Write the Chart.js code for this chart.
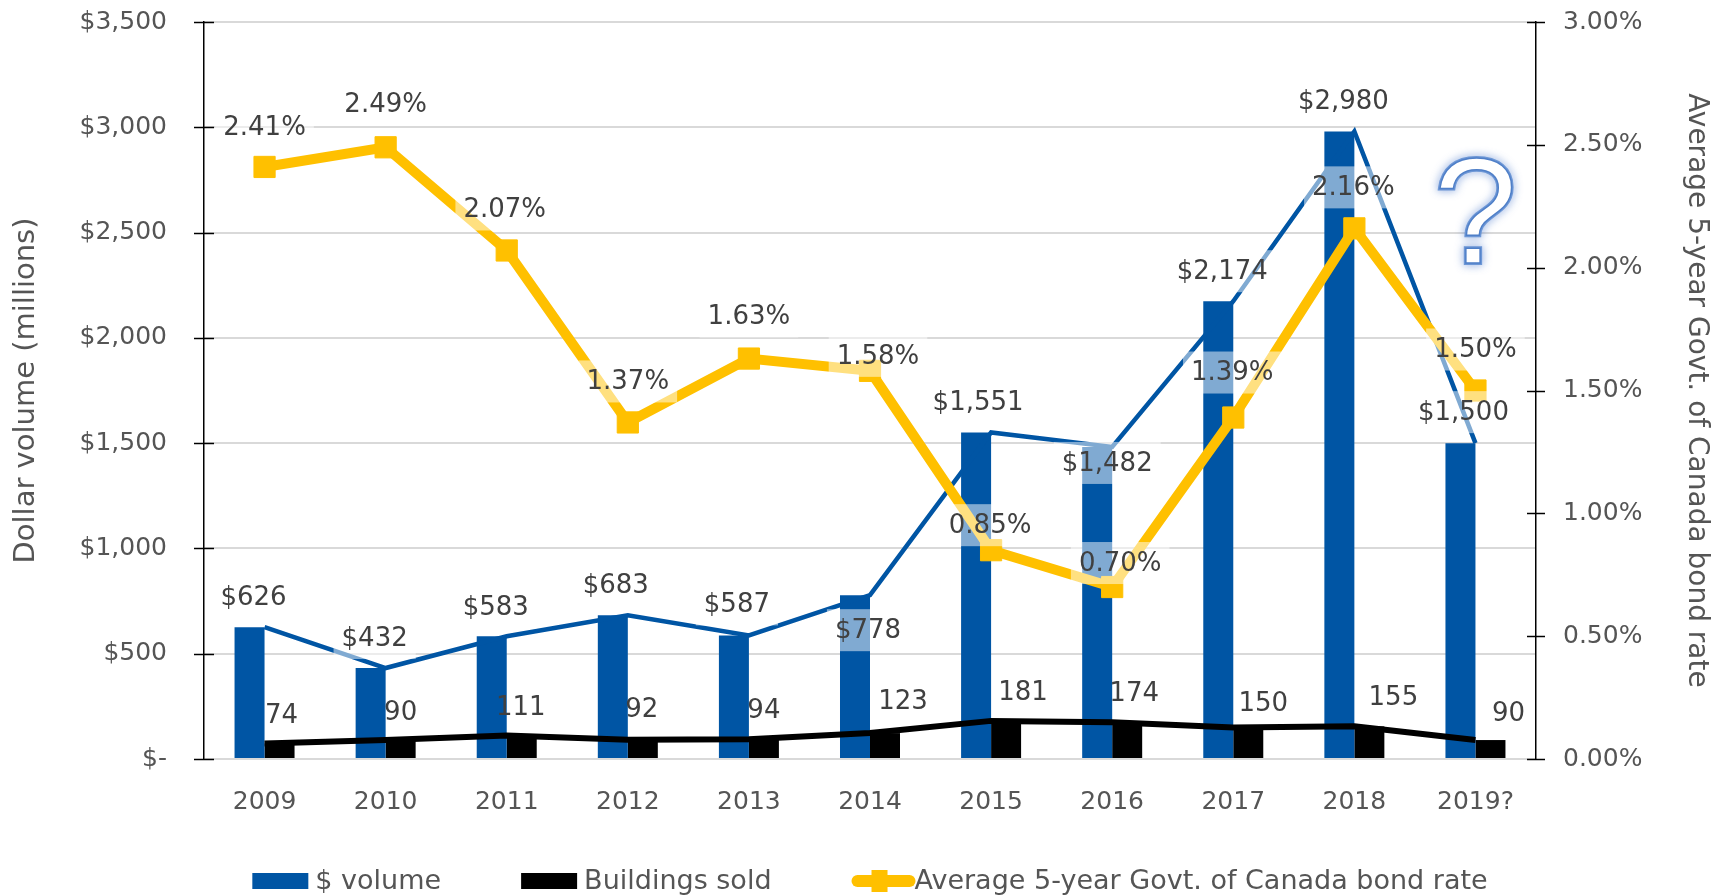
<!DOCTYPE html>
<html><head><meta charset="utf-8">
<script src="https://cdn.jsdelivr.net/npm/chart.js@4.4.1/dist/chart.umd.min.js"></script>
<style>html,body{margin:0;padding:0;background:#fff;overflow:hidden}#wrap{width:1731px;height:896px;position:relative}</style>
</head><body><div id="wrap"><canvas id="c" width="1731" height="896"></canvas></div>
<script>
// ---- data ----
const categories = ['2009','2010','2011','2012','2013','2014','2015','2016','2017','2018','2019?'];
const dollarVolume = [626,432,583,683,587,778,1551,1482,2174,2980,1500];
const buildingsSold = [74,90,111,92,94,123,181,174,150,155,90];
const bondRate = [2.41,2.49,2.07,1.37,1.63,1.58,0.85,0.70,1.39,2.16,1.50];
const seriesNames = ['$ volume','Buildings sold','Average 5-year Govt. of Canada bond rate'];
const leftAxisTitle = 'Dollar volume (millions)';
const rightAxisTitle = 'Average 5-year Govt. of Canada bond rate';

// ---- label placement (style, px offsets from the point) ----
const volumeLabelOffsets = [[-11,-30],[-11,-30],[-11,-29],[-12,-30],[-12,-31],[-2,35],[-13,-30],[-5,16],[-11,-30],[-11,-30],[-12,-31]];
const buildingLabelOffsets = [[17,-28],[15,-28],[14,-28],[14,-30],[15,-29],[33,-32],[32,-29],[22,-29],[30,-24],[39,-29],[33,-27]];
const rateLabelOffsets = [[0,-40],[0,-43],[-2,-41],[0,-41],[0,-42],[8,-15],[-1,-25],[8,-24],[-1,-45],[-1,-41],[0,-41]];

const BLUE = '#0055A4', BLACK = '#000000', YELLOW = '#FFC000';
const FONT = 'DejaVu Sans';
const TICK_COLOR = '#555555', LABEL_COLOR = '#404040';

const fmtDollar = v => v === 0 ? '$-' : '$' + Number(v).toLocaleString('en-US');
const fmtPct = v => Number(v).toFixed(2) + '%';

const crossTicks = {
  id: 'crossTicks',
  afterDraw(chart) {
    const ctx = chart.ctx;
    ctx.save();
    ctx.strokeStyle = '#000'; ctx.lineWidth = 1.5;
    [['yL', chart.chartArea.left, 10], ['yR', chart.chartArea.right, 9]].forEach(([id, ax, len]) => {
      const s = chart.scales[id];
      s.ticks.forEach(t => {
        const y = Math.round(s.getPixelForValue(t.value)) + 0.5;
        ctx.beginPath(); ctx.moveTo(ax - len, y); ctx.lineTo(ax + len, y); ctx.stroke();
      });
    });
    ctx.restore();
  }
};

const dataLabels = {
  id: 'dataLabels',
  afterDatasetsDraw(chart) {
    const ctx = chart.ctx;
    const specs = [
      {ds: 3, texts: buildingsSold.map(String), offs: buildingLabelOffsets, bg: false},
      {ds: 2, texts: dollarVolume.map(fmtDollar), offs: volumeLabelOffsets, bg: true},
      {ds: 4, texts: bondRate.map(fmtPct), offs: rateLabelOffsets, bg: true}
    ];
    ctx.save();
    ctx.font = '26px "' + FONT + '"';
    ctx.textAlign = 'center'; ctx.textBaseline = 'middle';
    specs.forEach(sp => {
      const meta = chart.getDatasetMeta(sp.ds);
      meta.data.forEach((pt, i) => {
        const x = pt.x + sp.offs[i][0], y = pt.y + sp.offs[i][1];
        if (sp.bg) {
          const w = ctx.measureText(sp.texts[i]).width + 16, h = 42;
          ctx.fillStyle = 'rgba(255,255,255,0.5)';
          ctx.fillRect(x - w / 2, y - h / 2, w, h);
        }
        ctx.fillStyle = LABEL_COLOR;
        ctx.fillText(sp.texts[i], x, y + 1);
      });
    });
    ctx.restore();
  }
};

const customLegend = {
  id: 'customLegend',
  afterDraw(chart) {
    const ctx = chart.ctx;
    ctx.save();
    ctx.font = '27px "' + FONT + '"';
    ctx.textBaseline = 'middle'; ctx.textAlign = 'left';
    const boxW = 56, gap = 7, spacing = 80, y = 881;
    const widths = seriesNames.map(n => ctx.measureText(n).width);
    const total = widths.reduce((a, b) => a + b, 0) + 3 * (boxW + gap) + 2 * spacing;
    let x = (chart.chartArea.left + chart.chartArea.right) / 2 - total / 2;
    const colors = [BLUE, BLACK, YELLOW];
    seriesNames.forEach((n, i) => {
      if (i < 2) {
        ctx.fillStyle = colors[i];
        ctx.fillRect(x, y - 8, boxW, 16);
      } else {
        ctx.strokeStyle = YELLOW; ctx.lineWidth = 12; ctx.lineCap = 'round';
        ctx.beginPath(); ctx.moveTo(x + 6, y); ctx.lineTo(x + boxW + 2, y); ctx.stroke();
        ctx.fillStyle = YELLOW;
        ctx.fillRect(x + boxW / 2 - 8, y - 11, 16, 22);
      }
      ctx.fillStyle = TICK_COLOR;
      ctx.fillText(n, x + boxW + gap, y + 1);
      x += boxW + gap + widths[i] + spacing;
    });
    ctx.restore();
  }
};

const questionMark = {
  id: 'questionMark',
  afterDraw(chart) {
    const ctx = chart.ctx;
    const x = chart.scales.x.getPixelForValue(categories.length - 1);
    const y = chart.chartArea.top + 200;
    ctx.save();
    ctx.font = '150px "Liberation Sans"';
    ctx.textAlign = 'center'; ctx.textBaseline = 'middle';
    ctx.shadowColor = 'rgba(60,110,200,0.75)'; ctx.shadowBlur = 9;
    ctx.lineWidth = 4; ctx.strokeStyle = '#6d97d6';
    ctx.strokeText('?', x, y);
    ctx.shadowBlur = 0;
    ctx.fillStyle = '#ffffff';
    ctx.fillText('?', x, y);
    ctx.lineWidth = 1.5; ctx.strokeStyle = '#4f7fc8';
    ctx.strokeText('?', x, y);
    ctx.restore();
  }
};

const hiddenTick = 'rgba(0,0,0,0)';

new Chart(document.getElementById('c'), {
  type: 'bar',
  data: {
    labels: categories,
    datasets: [
      {type: 'bar', label: seriesNames[0], data: dollarVolume, backgroundColor: BLUE, yAxisID: 'yL', order: 5,
       categoryPercentage: 0.4955, barPercentage: 1.0},
      {type: 'bar', label: seriesNames[1], data: buildingsSold, backgroundColor: BLACK, yAxisID: 'yL', order: 6,
       categoryPercentage: 0.4955, barPercentage: 1.0},
      {type: 'line', label: seriesNames[0] + ' line', data: dollarVolume, borderColor: BLUE, borderWidth: 4.5,
       pointRadius: 0, yAxisID: 'yL', order: 4, tension: 0},
      {type: 'line', label: seriesNames[1] + ' line', data: buildingsSold, borderColor: BLACK, borderWidth: 6,
       pointRadius: 0, yAxisID: 'yL', order: 3, tension: 0},
      {type: 'line', label: seriesNames[2], data: bondRate, borderColor: YELLOW, borderWidth: 10,
       pointStyle: 'rect', pointRadius: 15, pointBackgroundColor: YELLOW, pointBorderColor: YELLOW, pointBorderWidth: 1,
       yAxisID: 'yR', order: 1, tension: 0}
    ]
  },
  options: {
    responsive: false, animation: false, devicePixelRatio: 1,
    layout: {padding: {top: 22, left: 0, right: 0, bottom: 0}},
    plugins: {legend: {display: false}, tooltip: {enabled: false}},
    scales: {
      x: {
        grid: {display: false}, border: {display: false},
        ticks: {font: {family: FONT, size: 25}, color: TICK_COLOR, padding: 20, maxRotation: 0, autoSkip: false},
        afterFit(s) { s.height = 137; }
      },
      yL: {
        position: 'left', min: 0, max: 3500,
        ticks: {stepSize: 500, padding: 4, font: {family: FONT, size: 25}, color: TICK_COLOR, callback: v => fmtDollar(v)},
        grid: {color: '#d9d9d9', lineWidth: 2, drawTicks: true, tickLength: 33, tickColor: hiddenTick},
        border: {color: '#000', width: 1.5},
        title: {display: true, text: leftAxisTitle, font: {family: FONT, size: 29}, color: TICK_COLOR, padding: {top: 9, bottom: 0}},
        afterFit(s) { s.width = 204; }
      },
      yR: {
        position: 'right', min: 0, max: 3,
        ticks: {stepSize: 0.5, padding: 4, font: {family: FONT, size: 25}, color: TICK_COLOR, callback: v => fmtPct(v)},
        grid: {drawOnChartArea: false, drawTicks: true, tickLength: 23, tickColor: hiddenTick},
        border: {color: '#000', width: 1.5},
        title: {display: true, text: rightAxisTitle, font: {family: FONT, size: 28}, color: TICK_COLOR, padding: {top: 18, bottom: 0}},
        afterFit(s) { s.width = 195; }
      }
    }
  },
  plugins: [crossTicks, dataLabels, customLegend, questionMark]
});
</script>
</body></html>
